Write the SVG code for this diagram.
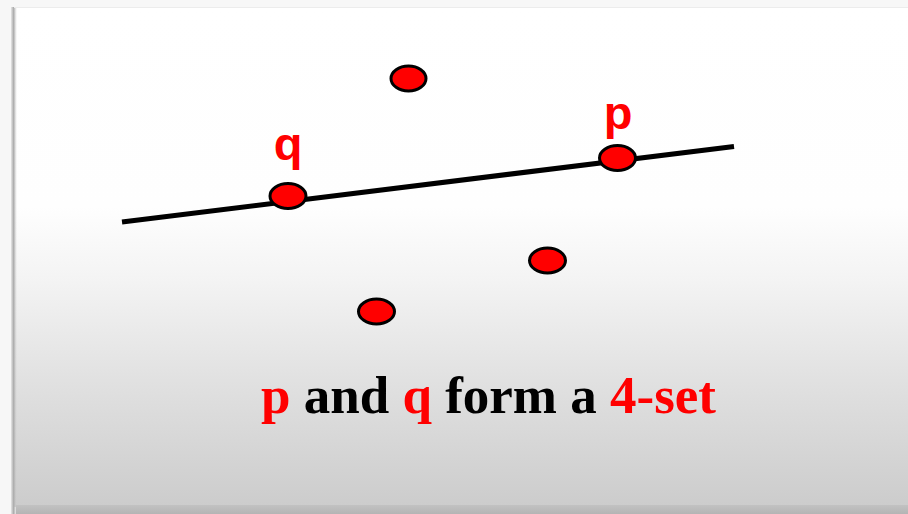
<svg xmlns="http://www.w3.org/2000/svg" width="908" height="514" viewBox="0 0 908 514">
  <style>
    .dot { fill: #ff0000; stroke: #000000; stroke-width: 3; }
    .lbl { font-family: "Liberation Sans", Arial, sans-serif; font-weight: bold; font-size: 47px; fill: #ff0000; text-anchor: middle; }
    .cap { font-family: "Liberation Serif", "Times New Roman", serif; font-weight: bold; font-size: 53px; fill: #000000; }
    .red { fill: #ff0000; }
  </style>
  <defs>
    <linearGradient id="bg" x1="0" y1="0" x2="0" y2="1">
      <stop offset="0" stop-color="#ffffff"/>
      <stop offset="0.40" stop-color="#fefefe"/>
      <stop offset="0.55" stop-color="#f3f3f3"/>
      <stop offset="0.78" stop-color="#dedede"/>
      <stop offset="1" stop-color="#cccccc"/>
    </linearGradient>
    <linearGradient id="lsh" x1="0" y1="0" x2="1" y2="0">
      <stop offset="0" stop-color="#e6e6e6"/>
      <stop offset="0.45" stop-color="#aaaaaa"/>
      <stop offset="1" stop-color="#d0d0d0" stop-opacity="0"/>
    </linearGradient>
    <linearGradient id="bsh" x1="0" y1="0" x2="0" y2="1">
      <stop offset="0" stop-color="#c2c2c2"/>
      <stop offset="1" stop-color="#b4b4b4"/>
    </linearGradient>
  </defs>
  <rect x="0" y="0" width="908" height="514" fill="#f7f7f7"/>
  <rect x="14" y="7" width="894" height="500" fill="url(#bg)"/>
  <rect x="11" y="7" width="6" height="507" fill="url(#lsh)"/>
  <rect x="16" y="505" width="892" height="9" fill="url(#bsh)"/>
  <line x1="14" y1="7.5" x2="908" y2="7.5" stroke="#ececec" stroke-width="1"/>

  <g id="connectors">
    <line x1="122" y1="222" x2="734" y2="146.5" stroke="#000000" stroke-width="5"/>
  </g>

  <g id="q">
    <ellipse class="dot" cx="288" cy="196" rx="18" ry="12.5"/>
    <text class="lbl" x="288" y="160">q</text>
  </g>
  <g id="p">
    <ellipse class="dot" cx="617.5" cy="158" rx="18" ry="12.5"/>
    <text class="lbl" x="618" y="129">p</text>
  </g>
  <g id="dot-top">
    <ellipse class="dot" cx="408.5" cy="78.5" rx="17.5" ry="12.5"/>
  </g>
  <g id="dot-right">
    <ellipse class="dot" cx="547.5" cy="260.5" rx="18" ry="12.5"/>
  </g>
  <g id="dot-bottom">
    <ellipse class="dot" cx="376.5" cy="311.5" rx="18" ry="12.5"/>
  </g>

  <g id="caption">
    <text class="cap" x="261" y="413"><tspan class="red">p</tspan> and <tspan class="red">q</tspan> form a <tspan class="red">4-set</tspan></text>
  </g>
</svg>
